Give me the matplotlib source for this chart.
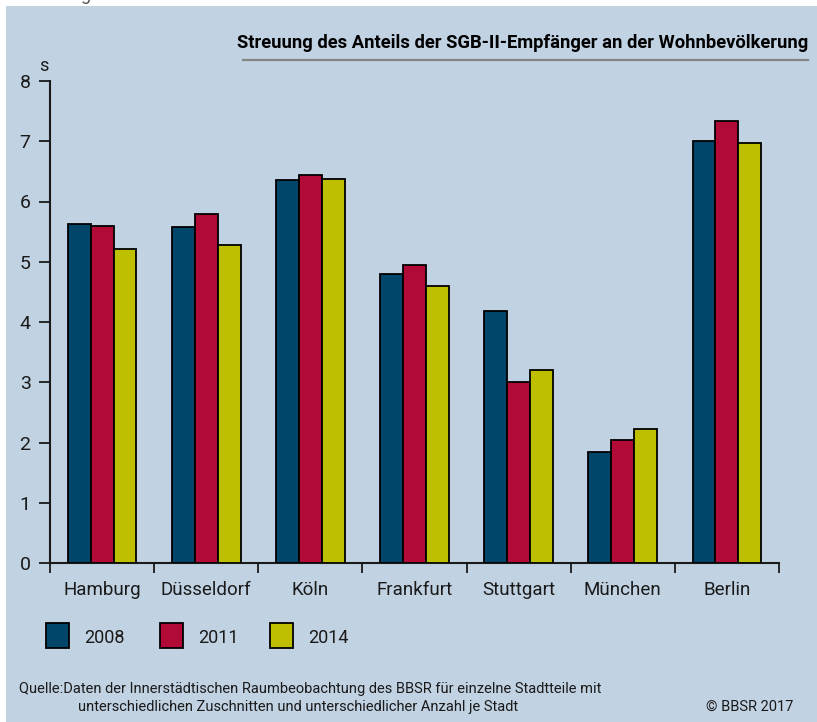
import numpy as np
import matplotlib
matplotlib.use('Agg')
import matplotlib.pyplot as plt
from matplotlib.patches import Rectangle
from matplotlib.lines import Line2D

# data
cities = ['Hamburg', 'Düsseldorf', 'Köln', 'Frankfurt', 'Stuttgart', 'München', 'Berlin']
years = ['2008', '2011', '2014']
s_2008 = [5.63, 5.57, 6.35, 4.80, 4.19, 1.85, 7.00]
s_2011 = [5.59, 5.79, 6.44, 4.95, 3.01, 2.04, 7.34]
s_2014 = [5.21, 5.28, 6.37, 4.60, 3.20, 2.23, 6.97]
yticks = [0, 1, 2, 3, 4, 5, 6, 7, 8]

title = 'Streuung des Anteils der SGB-II-Empfänger an der Wohnbevölkerung'
source_1 = 'Quelle:Daten der Innerstädtischen Raumbeobachtung des BBSR für einzelne Stadtteile mit'
source_2 = 'unterschiedlichen Zuschnitten und unterschiedlicher Anzahl je Stadt'
copyright_txt = '© BBSR 2017'

colors = ['#00466a', '#b20a36', '#bdbf00']
bg = '#c1d2e2'
ink = '#1a1a1a'

plt.rcParams['font.family'] = ['Liberation Sans Narrow', 'Roboto', 'DejaVu Sans']

W, H = 817, 722
fig = plt.figure(figsize=(W / 100, H / 100), dpi=100)
fig.patch.set_facecolor('white')


def fx(px):
    return px / W


def fy(py):
    return 1 - py / H


# blue panel
fig.patches.append(Rectangle((fx(6), 0), 1 - fx(6), fy(6), transform=fig.transFigure,
                             facecolor=bg, edgecolor='none', zorder=-10))
# cut-off text at the very top
fig.text(fx(85), fy(-5), 'g', fontsize=13, color='#555555', ha='center', va='center')

ax = fig.add_axes([fx(50), fy(563), fx(779) - fx(50), fy(81) - fy(563)])
ax.set_facecolor('none')
ax.set_zorder(2)

x = np.arange(len(cities)) + 0.5
w = 0.22
for i, vals in enumerate([s_2008, s_2011, s_2014]):
    ax.bar(x + (i - 1) * w, vals, width=w, color=colors[i], edgecolor='black',
           linewidth=1.3, zorder=3)

ax.set_xlim(0, len(cities))
ax.set_ylim(0, 8)
for side in ['top', 'right']:
    ax.spines[side].set_visible(False)
for side in ['left', 'bottom']:
    ax.spines[side].set_color(ink)
    ax.spines[side].set_linewidth(1.5)

ax.set_yticks(yticks)
ax.set_yticklabels([str(t) for t in yticks], fontsize=14)
ax.tick_params(axis='y', length=8, width=1.3, color=ink, pad=6, labelcolor=ink)

ax.set_xticks(np.arange(len(cities) + 1))
ax.set_xticklabels([])
ax.tick_params(axis='x', which='major', length=7.5, width=1.3, color=ink)
ax.set_xticks(x, minor=True)
ax.set_xticklabels(cities, minor=True, fontsize=13.5, color=ink)
ax.tick_params(axis='x', which='minor', length=0, pad=13)

# unit label
fig.text(fx(44), fy(66), 's', fontsize=13, color=ink, ha='center', va='center')

# title with rule
fig.text(fx(808), fy(43), title, fontsize=13.2, fontweight='bold', color='black',
         ha='right', va='center')
fig.lines.append(Line2D([fx(243), fx(808)], [fy(60), fy(60)], transform=fig.transFigure,
                        color='#858585', linewidth=1.6))

# legend
sq_x = [46, 160, 270]
for i, yr in enumerate(years):
    fig.patches.append(Rectangle((fx(sq_x[i]), fy(648)), fx(23), fy(623) - fy(648),
                                 transform=fig.transFigure, facecolor=colors[i],
                                 edgecolor='black', linewidth=1.3))
    fig.text(fx(sq_x[i] + 38), fy(638), yr, fontsize=13, color=ink, ha='left', va='center')

# source
fig.text(fx(19), fy(689), source_1, fontsize=10.5, color=ink, ha='left', va='center')
fig.text(fx(78), fy(707), source_2, fontsize=10.5, color=ink, ha='left', va='center')
fig.text(fx(793), fy(707), copyright_txt, fontsize=10.5, color=ink, ha='right', va='center')

fig.savefig('out.png', dpi=100, facecolor=fig.get_facecolor())
